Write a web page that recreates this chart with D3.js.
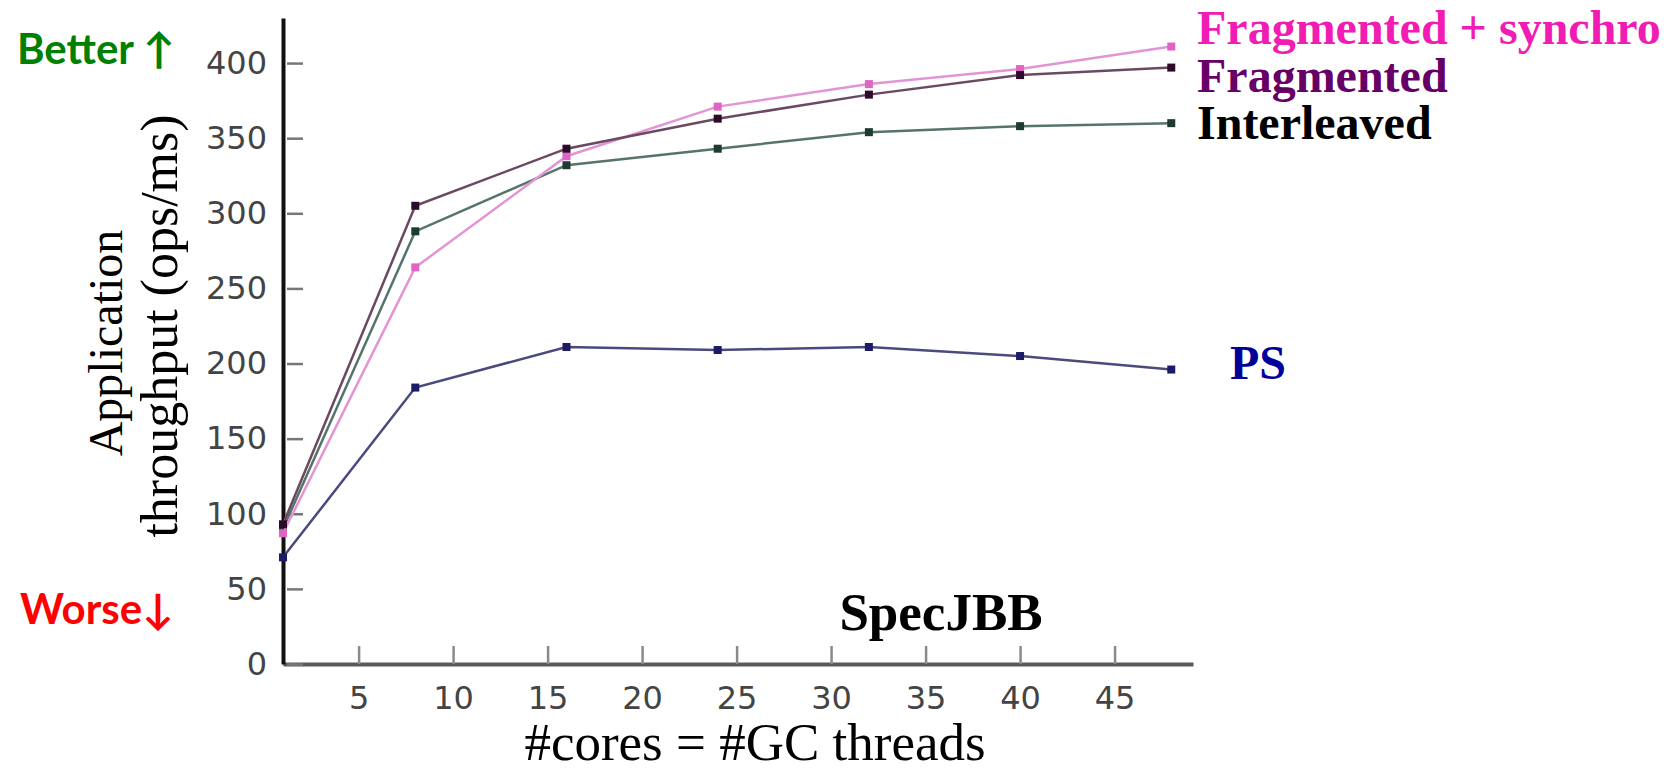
<!DOCTYPE html>
<html lang="en">
<head>
<meta charset="UTF-8">
<title>SpecJBB throughput</title>
<script src="https://d3js.org/d3.v7.min.js"></script>
<style>
  body { margin: 0; background: #fff; }
  .tick text { font-family: "DejaVu Sans", sans-serif; font-size: 32px; fill: #444; }
  .serif { font-family: "Liberation Serif", "Times New Roman", serif; }
  .calibri { font-family: Lato, "Open Sans", sans-serif; font-weight: bold; }
</style>
</head>
<body>
<svg id="chart" width="1677" height="773"></svg>
<script>
// data
var cores = [1, 8, 16, 24, 32, 40, 48];
var psVals = [71, 184, 211, 209, 211, 205, 196];
var interleavedVals = [90, 288, 332, 343, 354, 358, 360];
var fragmentedVals = [93, 305, 343, 363, 379, 392, 397];
var synchroVals = [87, 264, 338, 371, 386, 396, 411];
var yTicks = [0, 50, 100, 150, 200, 250, 300, 350, 400];
var xTicks = [5, 10, 15, 20, 25, 30, 35, 40, 45];

var svg = d3.select("#chart");

var x = d3.scaleLinear().domain([1, 49.15]).range([283, 1193]);
var y = d3.scaleLinear().domain([0, 430]).range([664, 18]);

// x axis (gray)
var gx = svg.append("g")
    .attr("transform", "translate(0,664)")
    .call(d3.axisBottom(x).tickValues(xTicks).tickSizeInner(-18).tickSizeOuter(0).tickPadding(22));
gx.select(".domain").attr("stroke", "#5a5a5a").attr("stroke-width", 4);
gx.selectAll(".tick line").attr("stroke", "#8a8a8a").attr("stroke-width", 2.5);

// y axis (black line, gray ticks inward)
var gy = svg.append("g")
    .attr("transform", "translate(283,0)")
    .call(d3.axisLeft(y).tickValues(yTicks).tickSizeInner(-20).tickSizeOuter(0).tickPadding(16));
gy.select(".domain").attr("stroke", "#111").attr("stroke-width", 4);
gy.selectAll(".tick line").attr("stroke", "#777").attr("stroke-width", 2.5)
    .attr("x1", 4);

var series = [
  { vals: interleavedVals, line: "#56756a", mark: "#1e3a32" },
  { vals: psVals, line: "#4a4a7e", mark: "#1c1c66" },
  { vals: synchroVals, line: "#e394d6", mark: "#e064c4" },
  { vals: fragmentedVals, line: "#6a4a62", mark: "#2e0a2a" }
];

var line = d3.line()
    .x(function(d, i) { return x(cores[i]); })
    .y(function(d) { return y(d); });

series.forEach(function(s) {
  svg.append("path")
     .attr("d", line(s.vals))
     .attr("fill", "none")
     .attr("stroke", s.line)
     .attr("stroke-width", 2.5);
  svg.selectAll(null)
     .data(s.vals)
     .enter().append("rect")
       .attr("x", function(d, i) { return x(cores[i]) - 4; })
       .attr("y", function(d) { return y(d) - 4; })
       .attr("width", 8)
       .attr("height", 8)
       .attr("fill", s.mark);
});

// series labels
var labels = [
  { text: "Fragmented + synchro", x: 1197, y: 44, color: "#f01cb4" },
  { text: "Fragmented", x: 1197, y: 92, color: "#660066" },
  { text: "Interleaved", x: 1197, y: 139, color: "#000000" },
  { text: "PS", x: 1230, y: 379, color: "#000099" }
];
svg.selectAll(".lbl")
  .data(labels)
  .enter().append("text")
    .attr("class", "lbl serif")
    .attr("x", function(d) { return d.x; })
    .attr("y", function(d) { return d.y; })
    .attr("fill", function(d) { return d.color; })
    .style("font-size", "48px")
    .style("font-weight", "bold")
    .text(function(d) { return d.text; });

svg.append("text")
   .attr("class", "serif")
   .attr("x", 941).attr("y", 630)
   .attr("text-anchor", "middle")
   .style("font-size", "53px").style("font-weight", "bold")
   .text("SpecJBB");

// axis titles
svg.append("text")
   .attr("class", "serif")
   .attr("x", 755).attr("y", 760)
   .attr("text-anchor", "middle")
   .style("font-size", "53px")
   .text("#cores = #GC threads");

svg.append("text")
   .attr("class", "serif")
   .attr("transform", "translate(122,343) rotate(-90)")
   .attr("text-anchor", "middle")
   .style("font-size", "48px")
   .text("Application");

svg.append("text")
   .attr("class", "serif")
   .attr("transform", "translate(177,326) rotate(-90)")
   .attr("text-anchor", "middle")
   .style("font-size", "52px")
   .text("throughput (ops/ms)");

// better / worse notes
svg.append("text")
   .attr("class", "calibri")
   .attr("x", 17).attr("y", 64)
   .attr("fill", "#008000")
   .style("font-size", "42px")
   .text("Better \u2191");

svg.append("text")
   .attr("class", "calibri")
   .attr("x", 20).attr("y", 624)
   .attr("fill", "#ff0000")
   .style("font-size", "42px")
   .text("Worse\u2193");
</script>
</body>
</html>
